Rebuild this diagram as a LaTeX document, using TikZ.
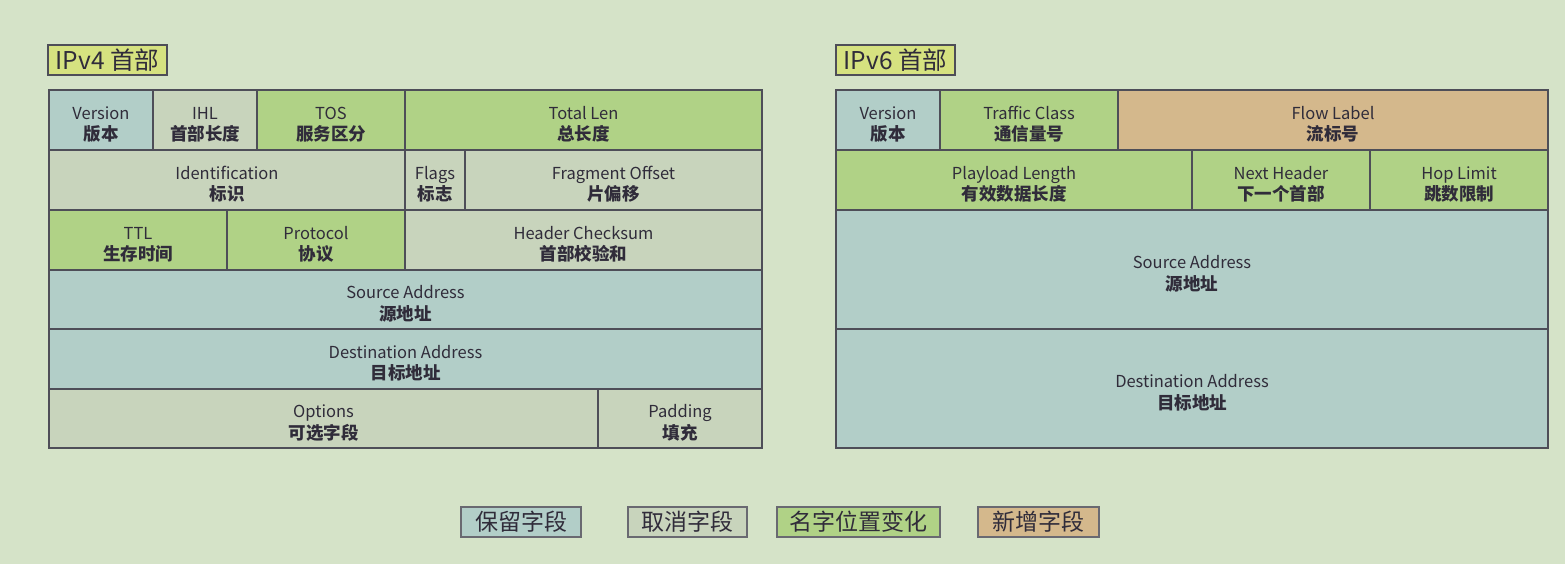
\documentclass[tikz,border=0pt]{standalone}
\usepackage{fontspec}
\setmainfont{Noto Sans CJK SC}
\definecolor{bg}{RGB}{213,227,200}
\definecolor{keep}{RGB}{178,206,200}
\definecolor{drop}{RGB}{200,212,188}
\definecolor{moved}{RGB}{176,210,134}
\definecolor{added}{RGB}{212,184,140}
\definecolor{titlefill}{RGB}{214,226,128}
\definecolor{edge}{RGB}{78,78,88}
\definecolor{ink}{RGB}{48,44,58}
\newcommand\zh[1]{{\fontsize{17.5}{21.5}\selectfont\bfseries #1}}
\newcommand\up{\rule{0pt}{22pt}}
\newcommand\cellbox[8]{% name, x1, y1, x2, y2, style, text
  \pgfmathsetmacro\cw{#4-#2}\pgfmathsetmacro\ch{#5-#3}%
  \node[#6, minimum width=\cw pt, minimum height=\ch pt] (#1) at ({(#2+#4)/2},{(#3+#5)/2}) {#7};}
\begin{document}
\begin{tikzpicture}[x=1pt,y=-1pt,
  cell/.style={draw=edge, line width=1.3pt, inner sep=0pt, align=center,
    font=\fontsize{16.5}{21.5}\selectfont, text=ink},
  keepc/.style={cell, fill=keep},
  dropc/.style={cell, fill=drop},
  movedc/.style={cell, fill=moved},
  addedc/.style={cell, fill=added},
  titlebox/.style={draw=edge, line width=1.2pt, fill=titlefill, inner sep=0pt,
    font=\fontsize{24.5}{28}\selectfont, text=ink},
  legendbox/.style={draw=edge!85, line width=1.2pt, inner sep=0pt,
    font=\fontsize{23}{26}\selectfont, text=ink}]
\fill[bg] (0,0) rectangle (1565,564);
\useasboundingbox (0,0) rectangle (1565,564);

% titles
\cellbox{t4}{48}{45}{167}{75}{titlebox}{IPv4 首部}{}
\cellbox{t6}{836}{45}{955}{75}{titlebox}{IPv6 首部}{}

% IPv4 header
\cellbox{a1}{49}{90}{153}{150}{keepc}{\up Version\\\zh{版本}}{}
\cellbox{a2}{153}{90}{257}{150}{dropc}{\up IHL\\\zh{首部长度}}{}
\cellbox{a3}{257}{90}{405}{150}{movedc}{\up TOS\\\zh{服务区分}}{}
\cellbox{a4}{405}{90}{762}{150}{movedc}{\up Total Len\\\zh{总长度}}{}
\cellbox{b1}{49}{150}{405}{210}{dropc}{\up Identification\\\zh{标识}}{}
\cellbox{b2}{405}{150}{465}{210}{dropc}{\up Flags\\\zh{标志}}{}
\cellbox{b3}{465}{150}{762}{210}{dropc}{\up Fragment Offset\\\zh{片偏移}}{}
\cellbox{c1}{49}{210}{227}{270}{movedc}{\up TTL\\\zh{生存时间}}{}
\cellbox{c2}{227}{210}{405}{270}{movedc}{\up Protocol\\\zh{协议}}{}
\cellbox{c3}{405}{210}{762}{270}{dropc}{\up Header Checksum\\\zh{首部校验和}}{}
\cellbox{d1}{49}{270}{762}{329}{keepc}{\up Source Address\\\zh{源地址}}{}
\cellbox{e1}{49}{329}{762}{389}{keepc}{\up Destination Address\\\zh{目标地址}}{}
\cellbox{f1}{49}{389}{598}{448}{dropc}{\up Options\\\zh{可选字段}}{}
\cellbox{f2}{598}{389}{762}{448}{dropc}{\up Padding\\\zh{填充}}{}

% IPv6 header
\cellbox{g1}{836}{90}{940}{150}{keepc}{\up Version\\\zh{版本}}{}
\cellbox{g2}{940}{90}{1118}{150}{movedc}{\up Traffic Class\\\zh{通信量号}}{}
\cellbox{g3}{1118}{90}{1548}{150}{addedc}{\up Flow Label\\\zh{流标号}}{}
\cellbox{h1}{836}{150}{1192}{210}{movedc}{\up Playload Length\\\zh{有效数据长度}}{}
\cellbox{h2}{1192}{150}{1370}{210}{movedc}{\up Next Header\\\zh{下一个首部}}{}
\cellbox{h3}{1370}{150}{1548}{210}{movedc}{\up Hop Limit\\\zh{跳数限制}}{}
\cellbox{i1}{836}{210}{1548}{329}{keepc}{\up Source Address\\\zh{源地址}}{}
\cellbox{j1}{836}{329}{1548}{448}{keepc}{\up Destination Address\\\zh{目标地址}}{}

% legend
\cellbox{l1}{461}{507}{581}{537}{legendbox, fill=keep}{保留字段}{}
\cellbox{l2}{628}{507}{747}{537}{legendbox, fill=drop}{取消字段}{}
\cellbox{l3}{777}{507}{940}{537}{legendbox, fill=moved}{名字位置变化}{}
\cellbox{l4}{978}{507}{1099}{537}{legendbox, fill=added}{新增字段}{}
\end{tikzpicture}
\end{document}
